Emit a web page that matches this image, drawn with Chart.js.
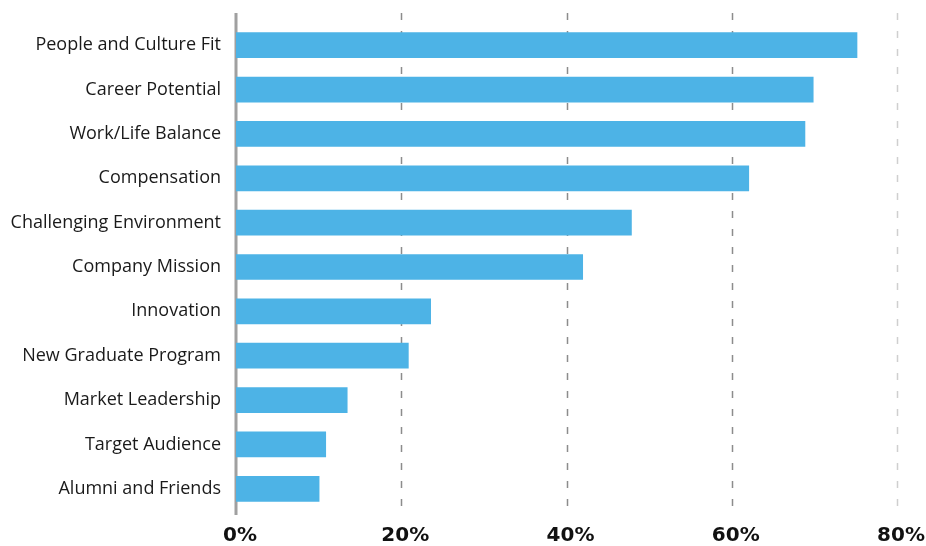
<!DOCTYPE html>
<html>
<head>
<meta charset="utf-8">
<script src="https://cdn.jsdelivr.net/npm/chart.js@4.4.1/dist/chart.umd.min.js"></script>
<style>
  html, body { margin: 0; padding: 0; background: #ffffff; }
  #wrap { width: 926px; height: 546px; position: relative; }
</style>
</head>
<body>
<div id="wrap"><canvas id="factorsChart"></canvas></div>
<script>
const categories = [
    'People and Culture Fit',
    'Career Potential',
    'Work/Life Balance',
    'Compensation',
    'Challenging Environment',
    'Company Mission',
    'Innovation',
    'New Graduate Program',
    'Market Leadership',
    'Target Audience',
    'Alumni and Friends'
];
const shares = [75.2, 69.9, 68.9, 62.1, 47.9, 42.0, 23.6, 20.9, 13.5, 10.9, 10.1];
const tickValues = [0, 20, 40, 60, 80];

const barColor = '#4db3e6';

// dashed grid lines and the solid left axis, a bit taller than the plot area
const axisLines = {
    id: 'axisLines',
    beforeDatasetsDraw(chart) {
        const { ctx, chartArea, scales } = chart;
        ctx.save();
        ctx.lineWidth = 1.5;
        ctx.setLineDash([7, 11]);
        tickValues.forEach(v => {
            if (v === 0) return;
            const x = Math.round(scales.x.getPixelForValue(v)) + 0.5;
            ctx.strokeStyle = v === 80 ? '#cfcfcf' : '#8c8c8c';
            ctx.beginPath();
            ctx.moveTo(x, chartArea.top - 10);
            ctx.lineTo(x, chartArea.bottom - 3);
            ctx.stroke();
        });
        ctx.setLineDash([]);
        ctx.lineWidth = 3;
        ctx.strokeStyle = '#a0a0a0';
        const x0 = scales.x.getPixelForValue(0);
        ctx.beginPath();
        ctx.moveTo(x0, chartArea.top - 10);
        ctx.lineTo(x0, chartArea.bottom + 4);
        ctx.stroke();
        ctx.restore();
    }
};

const ctx = document.getElementById('factorsChart').getContext('2d');
new Chart(ctx, {
    type: 'bar',
    data: {
        labels: categories,
        datasets: [{
            data: shares,
            backgroundColor: barColor,
            borderWidth: 0,
            barPercentage: 0.58,
            categoryPercentage: 1
        }]
    },
    options: {
        indexAxis: 'y',
        responsive: true,
        maintainAspectRatio: false,
        animation: false,
        layout: {
            padding: { top: 23, right: 29, bottom: 0, left: 0 }
        },
        plugins: {
            legend: { display: false },
            tooltip: { enabled: false }
        },
        scales: {
            x: {
                min: 0,
                max: 80,
                afterBuildTicks: scale => {
                    scale.ticks = tickValues.map(v => ({ value: v }));
                },
                afterFit: scale => {
                    scale.height = 35;
                    scale.paddingLeft = 0;
                    scale.paddingRight = 0;
                },
                grid: { display: false, drawTicks: false },
                border: { display: false },
                ticks: {
                    callback: v => v + '%',
                    color: '#111111',
                    padding: 13,
                    labelOffset: 4,
                    maxRotation: 0,
                    font: { family: 'DejaVu Sans', size: 20, weight: 'bold' }
                }
            },
            y: {
                afterFit: scale => {
                    scale.width = 236;
                    scale.paddingTop = 0;
                    scale.paddingBottom = 0;
                },
                grid: { display: false, drawTicks: false },
                border: { display: false },
                ticks: {
                    color: '#1a1a1a',
                    padding: 15,
                    font: { family: 'Open Sans', size: 18, weight: 500 }
                }
            }
        }
    },
    plugins: [axisLines]
});
</script>
</body>
</html>
